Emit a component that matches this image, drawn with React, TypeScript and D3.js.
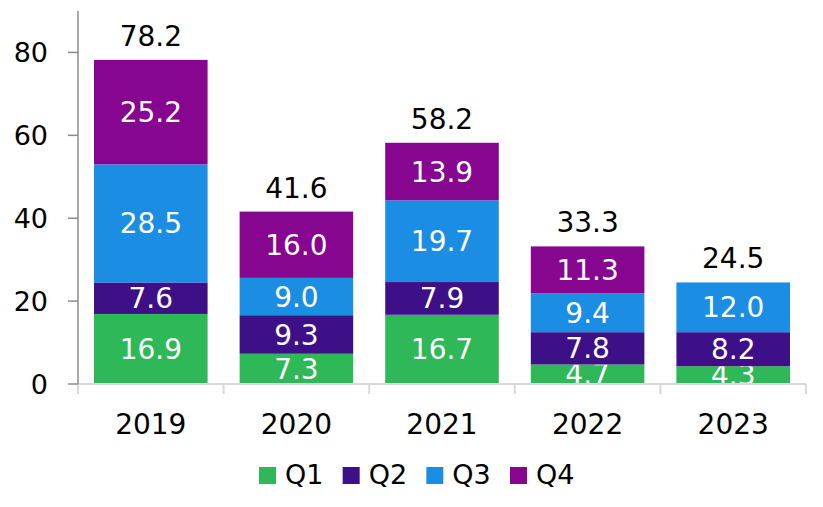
import * as d3 from "d3";

const years = ["2019", "2020", "2021", "2022", "2023"];
const quarters = ["Q1", "Q2", "Q3", "Q4"];
const q1 = [16.9, 7.3, 16.7, 4.7, 4.3];
const q2 = [7.6, 9.3, 7.9, 7.8, 8.2];
const q3 = [28.5, 9.0, 19.7, 9.4, 12.0];
const q4 = [25.2, 16.0, 13.9, 11.3, null];
const totals = [78.2, 41.6, 58.2, 33.3, 24.5];
const yTicks = [0, 20, 40, 60, 80];

const colors: Record<string, string> = {
  Q1: "#2eb857",
  Q2: "#3e1088",
  Q3: "#1b8de3",
  Q4: "#86068f",
};

const W = 823;
const H = 507;
const margin = { top: 11, right: 17, bottom: 123, left: 78 };
const font = "'DejaVu Sans', Verdana, sans-serif";

export default function App() {
  const innerW = W - margin.left - margin.right;
  const innerH = H - margin.top - margin.bottom;

  const x = d3.scaleBand().domain(years).range([0, innerW]).padding(0);
  const y = d3.scaleLinear().domain([0, 90]).range([innerH, 0]);
  const barW = x.bandwidth() * 0.78;

  const rows = years.map((yr, i) => ({
    year: yr,
    Q1: q1[i] ?? 0,
    Q2: q2[i] ?? 0,
    Q3: q3[i] ?? 0,
    Q4: q4[i] ?? 0,
    raw: [q1[i], q2[i], q3[i], q4[i]],
  }));

  const stacked = d3.stack<any>().keys(quarters)(rows);

  const legendX = d3.scalePoint().domain(quarters).range([259, 510]);

  return (
    <svg
      width={W}
      height={H}
      style={{ position: "absolute", left: 0, top: 0, background: "#fff" }}
      fontFamily={font}
    >
      <g transform={`translate(${margin.left},${margin.top})`}>
        {/* bars */}
        {stacked.map((layer, li) => (
          <g key={layer.key} fill={colors[layer.key]}>
            {layer.map((d, i) => {
              const v = rows[i].raw[li];
              if (v == null) return null;
              const x0 = (x(d.data.year) ?? 0) + (x.bandwidth() - barW) / 2;
              return (
                <g key={i}>
                  <rect x={x0} y={y(d[1])} width={barW} height={y(d[0]) - y(d[1])} />
                  <text
                    x={x0 + barW / 2}
                    y={(y(d[0]) + y(d[1])) / 2}
                    dy="0.36em"
                    textAnchor="middle"
                    fill="#fff"
                    fontSize={28}
                  >
                    {v.toFixed(1)}
                  </text>
                </g>
              );
            })}
          </g>
        ))}

        {/* totals */}
        {years.map((yr, i) => (
          <text
            key={yr}
            x={(x(yr) ?? 0) + x.bandwidth() / 2}
            y={y(totals[i]) - 14}
            textAnchor="middle"
            fontSize={28}
            fill="#000"
          >
            {totals[i].toFixed(1)}
          </text>
        ))}

        {/* x axis */}
        <line x1={0} x2={innerW} y1={innerH} y2={innerH} stroke="#d9d9d9" strokeWidth={2} />
        {[...years.map((yr) => x(yr) ?? 0), innerW].map((px, i) => (
          <line key={i} x1={px} x2={px} y1={innerH} y2={innerH + 10} stroke="#d9d9d9" strokeWidth={2} />
        ))}
        {years.map((yr) => (
          <text
            key={yr}
            x={(x(yr) ?? 0) + x.bandwidth() / 2}
            y={innerH + 50}
            textAnchor="middle"
            fontSize={28}
            fill="#000"
          >
            {yr}
          </text>
        ))}

        {/* y axis */}
        <line x1={0} x2={0} y1={0} y2={innerH} stroke="#8c8c8c" strokeWidth={1.5} />
        {yTicks.map((t) => (
          <g key={t} transform={`translate(0,${y(t)})`}>
            <line x1={-10} x2={0} stroke="#8c8c8c" strokeWidth={1.5} />
            <text x={-30} dy="0.36em" textAnchor="end" fontSize={27} fill="#000">
              {t}
            </text>
          </g>
        ))}
      </g>

      {/* legend */}
      {quarters.map((q) => (
        <g key={q} transform={`translate(${legendX(q)},467)`}>
          <rect width={17} height={17} fill={colors[q]} />
          <text x={26} y={17} fontSize={27} fill="#000">
            {q}
          </text>
        </g>
      ))}
    </svg>
  );
}
